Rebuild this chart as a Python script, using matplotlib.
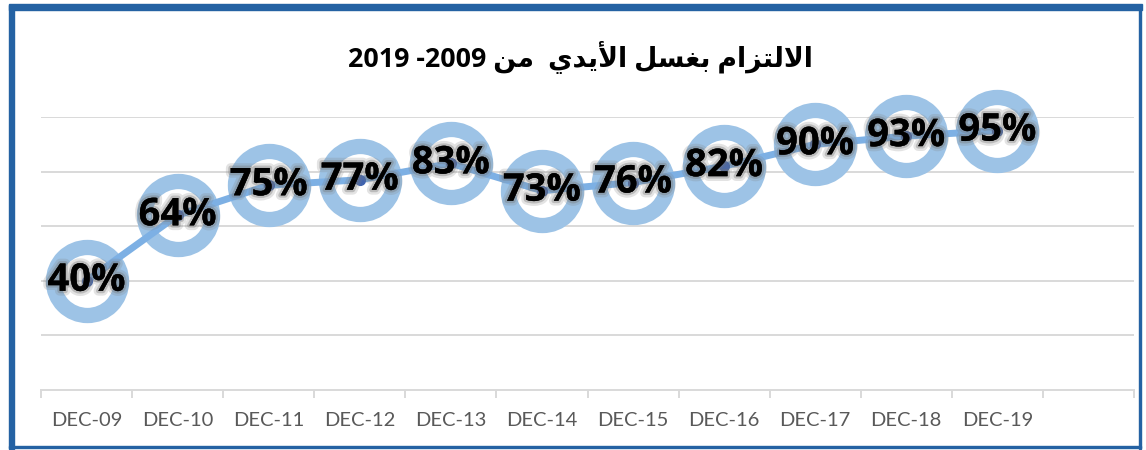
import matplotlib
matplotlib.use("Agg")
import matplotlib.pyplot as plt
import matplotlib.patheffects as pe
from matplotlib.patches import Rectangle

# data
categories = ["DEC-09", "DEC-10", "DEC-11", "DEC-12", "DEC-13", "DEC-14",
              "DEC-15", "DEC-16", "DEC-17", "DEC-18", "DEC-19"]
compliance = [0.40, 0.64, 0.75, 0.77, 0.83, 0.73, 0.76, 0.82, 0.90, 0.93, 0.95]
title_words = ["الالتزام", "بغسل", "الأيدي", "من"]
title_years = "2019 -2009"

# minimal arabic shaping (presentation forms), matplotlib does not shape arabic
FORMS = {
    "ا": ("\uFE8D", "\uFE8E", None, None),
    "أ": ("\uFE83", "\uFE84", None, None),
    "د": ("\uFEA9", "\uFEAA", None, None),
    "ز": ("\uFEAF", "\uFEB0", None, None),
    "ل": ("\uFEDD", "\uFEDE", "\uFEDF", "\uFEE0"),
    "ت": ("\uFE95", "\uFE96", "\uFE97", "\uFE98"),
    "م": ("\uFEE1", "\uFEE2", "\uFEE3", "\uFEE4"),
    "ب": ("\uFE8F", "\uFE90", "\uFE91", "\uFE92"),
    "غ": ("\uFECD", "\uFECE", "\uFECF", "\uFED0"),
    "س": ("\uFEB1", "\uFEB2", "\uFEB3", "\uFEB4"),
    "ي": ("\uFEF1", "\uFEF2", "\uFEF3", "\uFEF4"),
    "ن": ("\uFEE5", "\uFEE6", "\uFEE7", "\uFEE8"),
    "لا": ("\uFEFB", "\uFEFC", None, None),
    "لأ": ("\uFEF7", "\uFEF8", None, None),
}


def shape(word):
    units = []
    i = 0
    while i < len(word):
        if word[i] == "ل" and i + 1 < len(word) and word[i:i + 2] in FORMS:
            units.append(word[i:i + 2])
            i += 2
        else:
            units.append(word[i])
            i += 1
    out = []
    for k, u in enumerate(units):
        f = FORMS[u]
        prev = k > 0 and FORMS[units[k - 1]][2] is not None
        nxt = k + 1 < len(units) and f[2] is not None
        if prev and nxt:
            out.append(f[3])
        elif prev:
            out.append(f[1])
        elif nxt:
            out.append(f[2])
        else:
            out.append(f[0])
    return "".join(out[::-1])


w = [shape(x) for x in title_words]
title = title_years + " " + w[3] + "  " + w[2] + " " + w[1] + " " + w[0]

fig = plt.figure(figsize=(11.46, 4.5), dpi=100)
ax = fig.add_axes([41 / 1146, 60 / 450, 1093 / 1146, 273 / 450])

x = list(range(len(categories)))
ax.plot(x, compliance, color="#7DB0E4", lw=5, solid_capstyle="round", zorder=3, clip_on=False)
ax.plot(x, compliance, ls="none", marker="o", ms=49, mfc="none", mec="#9DC3E6",
        mew=11, zorder=2, clip_on=False)
ax.plot(x, compliance, ls="none", marker="o", ms=7, color="#3F63AE", zorder=4, clip_on=False)

for xi, v in zip(x, compliance):
    ax.text(xi, v, f"{v * 100:.0f}%", ha="center", va="center", fontsize=27.5,
            fontweight="bold", family=["Open Sans", "DejaVu Sans"], color="black", zorder=5,
            path_effects=[pe.withStroke(linewidth=7, foreground=(0.5, 0.5, 0.5, 0.22)),
                          pe.withStroke(linewidth=3.5, foreground=(0.45, 0.45, 0.45, 0.35))])

ax.set_xlim(-0.5, 11.5)
ax.set_ylim(0, 1)
ax.set_yticks([0.2, 0.4, 0.6, 0.8, 1.0])
ax.yaxis.grid(True, color="#D9D9D9", lw=1.4)
ax.tick_params(axis="y", left=False, labelleft=False)
ax.set_xticks(x)
ax.set_xticklabels(categories, fontsize=14.5, color="#595959", family="Lato")
ax.set_xticks([i - 0.5 for i in range(13)], minor=True)
ax.tick_params(axis="x", which="major", length=0, pad=16)
ax.tick_params(axis="x", which="minor", length=6, width=1.4, color="#D9D9D9")
for s in ["top", "right", "left"]:
    ax.spines[s].set_visible(False)
ax.spines["bottom"].set_color("#D9D9D9")
ax.spines["bottom"].set_linewidth(1.4)
ax.set_axisbelow(True)

fig.text(580 / 1146, 1 - 58 / 450, title, ha="center", va="center", fontsize=19.3,
         fontweight="bold", family=["Open Sans", "DejaVu Sans"])

# frame around the chart, thick on top/left
blue = "#2462A3"
W, H = 1146, 450
for (x0, y0, ww, hh) in [(8.5, 4.5, 1133, 5.5), (8.5, 4.5, 5.5, 444), (1139, 4.5, 2, 444), (8.5, 446, 1132.5, 2.2)]:
    fig.patches.append(Rectangle((x0 / W, 1 - (y0 + hh) / H), ww / W, hh / H,
                                 transform=fig.transFigure, color=blue, zorder=10))

fig.savefig("out.png", dpi=100)
